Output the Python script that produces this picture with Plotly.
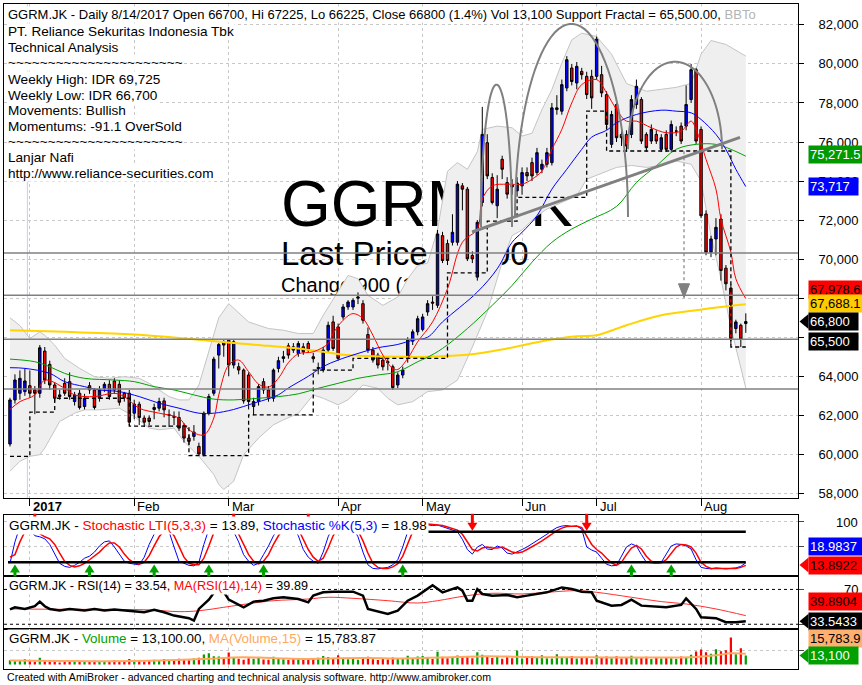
import numpy as np
import pandas as pd
import plotly.graph_objects as go

W, H = 862, 685
FONT = "Arial, Liberation Sans, sans-serif"

# ---------------- data ----------------
holidays = ["2016-12-26", "2017-01-02", "2017-02-15", "2017-03-28", "2017-04-14", "2017-04-19",
            "2017-04-24", "2017-05-01", "2017-05-11", "2017-05-25", "2017-06-01", "2017-06-23",
            "2017-06-26", "2017-06-27", "2017-06-28", "2017-06-29", "2017-06-30"]
trading_days = pd.bdate_range("2016-12-27", "2017-08-14")
trading_days = trading_days[~trading_days.isin(pd.to_datetime(holidays))]

opens = [60530, 62790, 63130, 63215, 63520, 63300, 63130, 65290, 64610, 63555,
         63045, 63640, 63725, 62705, 63130, 62450, 63520, 63300, 62875, 63385,
         63590, 63760, 63590, 63130, 63130, 62110, 62570, 61860, 61860, 62300,
         62365, 62740, 62000, 61950, 61890, 61480, 60835, 60920, 60410, 59985,
         62110, 63130, 65085, 65765, 65850, 64575, 64490, 64320, 64065, 62450,
         62705, 63725, 63300, 62875, 64400, 64915, 65560, 65510, 65170, 65510,
         65680, 65000, 64400, 64320, 65340, 66785, 66530, 67040, 67550, 67550,
         68000, 67720, 66140, 65340, 65085, 64830, 64750, 64490, 63555, 64065,
         64915, 65800, 66275, 66400, 67295, 67800, 67635, 71205, 70800, 70865,
         70865, 73755, 73585, 70185, 69080, 72905, 75965, 74180, 72735, 75115,
         73925, 73800, 73500, 73755, 74435, 74945, 74435, 74605, 74860, 74945,
         77665, 77580, 78770, 79790, 79025, 79620, 79365, 79365, 79365, 79450,
         78430, 75880, 77920, 76390, 76390, 76390, 77920, 78175, 76390, 76050,
         76390, 75625, 76390, 75625, 76560, 76815, 76815, 78175, 79705, 76645,
         72310, 70355, 71035, 72055, 69540, 68520, 66445, 66615, 66700]
highs = [62900, 64100, 64300, 64400, 64300, 63500, 65600, 65500, 64800, 63700,
         63300, 63900, 64200, 63200, 63300, 63100, 63700, 63400, 63500, 63700,
         63800, 63900, 63800, 63200, 63300, 62800, 62700, 62000, 62000, 62600,
         62900, 62900, 62300, 62200, 62200, 61600, 61000, 61500, 60600, 62200,
         63100, 65000, 65700, 65850, 65900, 65850, 64700, 64400, 64200, 62900,
         63600, 63900, 63500, 64400, 65000, 65300, 65700, 65700, 65800, 65700,
         65800, 65200, 64700, 65500, 66800, 67100, 66700, 67700, 67900, 68000,
         68300, 67900, 66500, 65500, 65200, 65000, 64900, 64600, 64200, 64500,
         66000, 66400, 67100, 67200, 67900, 68100, 71500, 71400, 71000, 72300,
         74000, 73900, 73700, 70400, 72000, 77800, 76400, 74400, 74300, 75300,
         74200, 74100, 74200, 74700, 74700, 75200, 75700, 75100, 75700, 78000,
         78400, 79200, 80400, 80000, 80100, 79800, 79600, 79700, 81400, 79900,
         78600, 77600, 78100, 76600, 76600, 78400, 79200, 78300, 76500, 76900,
         76600, 76400, 76600, 77100, 76800, 77000, 78900, 80000, 79800, 76800,
         72500, 71200, 72100, 72300, 69700, 68700, 66900, 66700, 67225]
lows = [60400, 62600, 62800, 63000, 62900, 62060, 62900, 63600, 63300, 62700,
        62800, 63000, 62800, 62500, 62300, 62300, 63100, 62300, 62700, 63200,
        62800, 63100, 62500, 62700, 61500, 61800, 61500, 61400, 61500, 61800,
        62200, 61900, 61400, 61500, 61200, 60600, 60500, 60700, 59950, 59900,
        62000, 63000, 64400, 65000, 64000, 64400, 64100, 62600, 62300, 62000,
        62500, 63100, 62700, 62700, 64200, 64700, 64900, 65200, 65000, 65100,
        65200, 64700, 64100, 64200, 65200, 65300, 64800, 66900, 67400, 67400,
        67700, 66700, 65200, 64700, 64400, 64300, 64300, 63300, 63400, 63900,
        64700, 65600, 66100, 66300, 67100, 67400, 67500, 69800, 69700, 70700,
        70700, 72500, 69900, 69800, 68900, 72700, 74100, 72800, 72100, 74100,
        73100, 73300, 73200, 73300, 74000, 74000, 74300, 74400, 74700, 74800,
        77400, 77400, 78600, 78900, 78700, 79200, 78200, 77700, 79200, 78300,
        76700, 75700, 76000, 75800, 75500, 76200, 77700, 75900, 75500, 75900,
        75900, 75500, 75500, 75500, 76300, 75900, 76600, 78000, 75900, 72100,
        70200, 70100, 70200, 68900, 68400, 65600, 66200, 65500, 66225]
closes = [62790, 63810, 63895, 63760, 63130, 63130, 65460, 63810, 63555, 62875,
          62960, 63130, 62960, 63045, 62400, 62875, 63300, 62400, 63300, 63590,
          62960, 63300, 62670, 62900, 61650, 62570, 61890, 61650, 61690, 62400,
          62705, 62280, 62025, 61900, 61345, 60835, 60665, 61140, 60020, 62110,
          62960, 64880, 65630, 65600, 64575, 65765, 64320, 62740, 62705, 62705,
          63470, 63300, 62875, 64320, 64800, 65000, 65085, 65340, 65680, 65255,
          65340, 64900, 64450, 65340, 66615, 65425, 64915, 67550, 67805, 67890,
          68060, 66870, 65340, 64830, 64575, 64490, 64700, 63420, 64065, 64320,
          65850, 66275, 66950, 67040, 67720, 67750, 71290, 69930, 69930, 71375,
          73840, 73585, 70015, 70015, 71885, 76390, 74265, 72905, 73585, 74605,
          73330, 73700, 73900, 74435, 74265, 74265, 75455, 74860, 75455, 77750,
          77750, 78940, 80215, 79100, 79875, 79450, 78430, 78260, 81270, 78515,
          76900, 77410, 76220, 76220, 75795, 78175, 78855, 76050, 75710, 76645,
          76050, 76220, 75625, 76900, 76560, 76050, 77920, 79705, 76050, 72225,
          70355, 71035, 71630, 69420, 68740, 65935, 66785, 65900, 66800]
volume = [6200, 4800, 5400, 7600, 5200, 4300, 9800, 6100, 4500, 3900,
          3200, 4600, 5300, 3800, 4900, 4100, 3600, 5500, 4200, 3900,
          4700, 6300, 5100, 4400, 8200, 6400, 5200, 4600, 5800, 7200,
          6100, 7900, 6800, 6200, 8400, 7600, 6500, 8800, 9900, 14800,
          16500, 12200, 11800, 10300, 17600, 9800, 8400, 7200, 9100, 8500,
          10200, 7300, 6900, 11400, 8200, 7700, 6800, 8100, 9300, 7400,
          6600, 8700, 9800, 12600, 10900, 8300, 13800, 9200, 7600, 8800,
          7100, 9600, 11300, 7900, 6800, 8600, 7400, 10400, 8100, 9300,
          12800, 9600, 11700, 12400, 9800, 8300, 18800, 11600, 9400, 10600,
          13300, 10200, 12700, 9100, 17900, 14400, 11800, 9700, 12600, 8600,
          10800, 9300, 20500, 8800, 9600, 12100, 10400, 13800, 9300, 8700,
          15200, 11200, 9600, 12400, 8900, 10700, 9800, 7900, 13600, 10800,
          11900, 9200, 12300, 8700, 10100, 12800, 9400, 10900, 11400, 8300,
          9700, 8800, 10500, 9100, 8400, 11800, 10200, 14300, 19200, 22000,
          18000, 16000, 22500, 19500, 21000, 39500, 15000, 24000, 13100]

# moving averages / bands (bar index, value)
ma_red_idx = [0, 2, 5, 7, 11, 13, 17, 21, 23, 26, 30, 34, 36, 39, 41, 42, 44, 46, 48, 50,
              52, 54, 56, 58, 61, 64, 65, 67, 69, 71, 73, 75, 77, 78, 80, 82, 85, 88, 91, 94,
              95, 97, 100, 103, 105, 107, 109, 111, 113, 115, 118, 120, 122, 124, 126, 129,
              132, 135, 137, 138, 140, 142, 143, 145, 146, 148]
ma_red_val = [62300, 62700, 63045, 63800, 63385, 63045, 62960, 63130, 62960, 62365,
              62110, 61860, 61260, 61000, 61860, 63045, 64575, 64830, 64235, 63600,
              63450, 63900, 64700, 65150, 65255, 65680, 66190, 66870, 67210, 66955,
              66100, 65085, 64400, 64350, 64915, 65765, 66785, 68485, 70865, 71545,
              73075, 73755, 73840, 73840, 74095, 74520, 75625, 76645, 78005, 78940,
              79195, 78515, 77665, 77070, 77070, 76730, 76475, 76560, 77070, 76645,
              75115, 73585, 72055, 70355, 68995, 67979]
ma_blue_idx = [0, 3, 8, 11, 15, 18, 22, 26, 30, 34, 38, 41, 45, 49, 52, 54, 56, 60, 63, 66,
               70, 74, 78, 81, 84, 87, 94, 98, 101, 103, 106, 109, 112, 115, 117, 120, 122,
               126, 131, 134, 137, 139, 142, 144, 146, 148]
ma_blue_val = [64440, 64405, 64150, 63725, 63470, 63300, 63215, 62960, 62620, 62365,
               62110, 62110, 62300, 62620, 62850, 63050, 63400, 64000, 64500, 64830,
               65170, 65460, 65630, 65850, 66000, 66785, 68315, 69505, 70865, 71375,
               72225, 73585, 74605, 75625, 76250, 76600, 76985, 77410, 77630, 77580,
               77495, 77155, 76390, 75625, 74605, 73717]
ma_green_idx = [0, 5, 8, 11, 15, 21, 25, 29, 33, 37, 41, 45, 50, 54, 58, 62, 66, 70, 74, 78,
                82, 84, 87, 92, 97, 101, 105, 109, 113, 117, 122, 126, 130, 134, 138, 142, 145, 148]
ma_green_val = [64880, 64745, 64490, 64150, 63895, 63810, 63725, 63470, 63300, 63045,
                62830, 62790, 62875, 62960, 63100, 63385, 63640, 63895, 64065, 64235,
                64745, 64975, 65425, 66445, 67635, 68655, 69845, 70865, 71545, 72050,
                72700, 73925, 74775, 75625, 75880, 75880, 75625, 75272]
ma_yellow_idx = [0, 11, 25, 37, 45, 52, 58, 63, 67, 72, 78, 84, 92, 100, 107, 114, 118, 124,
                 131, 138, 143, 148]
ma_yellow_val = [66360, 66275, 66140, 65900, 65700, 65560, 65425, 65255, 65100, 65035,
                 65000, 65000, 65100, 65425, 65800, 66050, 66105, 66615, 67125, 67380,
                 67550, 67688]
bb_top_idx = [0, 2, 4, 6, 7, 9, 11, 14, 17, 20, 23, 26, 28, 30, 32, 34, 36, 38, 40, 42,
              44, 48, 52, 55, 58, 61, 63, 66, 68, 70, 72, 75, 78, 80, 82, 84, 86, 88, 90, 92,
              94, 95, 98, 101, 103, 105, 107, 109, 111, 113, 115, 118, 121, 124, 128, 131,
              134, 137, 139, 141, 144, 148]
bb_top_val = [67000, 66600, 65935, 66275, 66100, 65595, 64915, 64405, 63980, 63895,
              63980, 63895, 63640, 63300, 62960, 62790, 62790, 63555, 65255, 67000,
              67720, 66785, 66445, 66360, 66190, 66190, 67125, 68315, 69165, 69000,
              68145, 67635, 68060, 68995, 69675, 69800, 71500, 74500, 74945, 74605,
              75500, 76645, 76815, 76730, 76305, 76450, 77665, 78685, 80045, 81235,
              81575, 81405, 80500, 79000, 78600, 78700, 78800, 79000, 80500, 81200,
              81000, 80400]
bb_bot_idx = [0, 2, 4, 6, 7, 10, 13, 15, 18, 22, 25, 28, 30, 33, 35, 38, 41, 42, 43, 45,
              47, 50, 53, 55, 58, 61, 63, 66, 68, 71, 74, 76, 78, 81, 84, 87, 90, 93, 96, 99,
              101, 103, 106, 108, 111, 114, 116, 118, 120, 122, 125, 128, 131, 134, 137, 139,
              141, 143, 145, 147, 148]
bb_bot_val = [59135, 59645, 59900, 59985, 60325, 61685, 62110, 62280, 62280, 62365,
              61940, 61345, 61260, 61345, 60665, 59900, 58965, 58455, 58200, 58625,
              59985, 60835, 61515, 61770, 62100, 63045, 62875, 62535, 62800, 63555,
              63385, 62875, 62535, 62700, 63215, 63300, 63800, 65500, 67295, 69845,
              71205, 71500, 72225, 72565, 72905, 73245, 74095, 74300, 74500, 74700,
              74800, 74700, 74800, 75030, 74860, 74000, 71205, 68995, 66500, 64400, 63400]
fractal_idx = [0, 4, 9, 24, 36, 48, 61, 69, 88, 96, 102, 116, 120, 145, 148]
fractal_val = [59900, 62160, 62875, 61450, 59935, 62025, 64320, 64915, 69300, 71950,
               73160, 77580, 75540, 65500, 65500]
support_levels = [70320, 68145, 65900, 63350]

stoch_k = [18, 60, 90, 92, 85, 72, 70, 66, 55, 35,
           18, 12, 10, 14, 20, 28, 32, 40, 52, 60,
           62, 50, 35, 22, 18, 16, 15, 30, 55, 75,
           85, 90, 80, 50, 22, 18, 14, 13, 20, 55,
           85, 98, 100, 98, 90, 80, 60, 35, 22, 14,
           18, 35, 52, 72, 86, 92, 95, 88, 72, 45,
           30, 22, 18, 40, 70, 90, 95, 96, 92, 88,
           70, 40, 15, 8, 7, 8, 10, 15, 25, 50,
           80, 95, 98, 95, 94, 92, 93, 90, 86, 84,
           80, 65, 45, 36, 50, 55, 46, 45, 52, 48,
           38, 36, 40, 45, 50, 56, 62, 68, 75, 82,
           88, 91, 92, 90, 91, 85, 50, 44, 40, 28,
           16, 13, 14, 32, 50, 56, 52, 35, 20, 19,
           18, 20, 36, 52, 56, 55, 52, 46, 25, 10,
           8, 7, 9, 8, 7, 8, 9, 12, 18.98]
stoch_d = [30, 35, 60, 80, 90, 85, 76, 70, 66, 55,
           38, 22, 14, 11, 13, 18, 25, 32, 40, 50,
           58, 58, 50, 36, 25, 19, 16, 20, 33, 52,
           70, 82, 85, 72, 50, 30, 18, 15, 15, 28,
           52, 78, 94, 98, 95, 88, 75, 55, 35, 22,
           17, 22, 35, 55, 72, 85, 92, 92, 85, 65,
           45, 30, 22, 28, 48, 72, 88, 94, 94, 90,
           82, 62, 38, 18, 10, 8, 8, 11, 17, 32,
           55, 80, 93, 96, 95, 94, 93, 92, 89, 86,
           83, 75, 60, 45, 42, 48, 50, 48, 48, 50,
           45, 40, 38, 40, 45, 50, 56, 62, 68, 75,
           82, 87, 90, 91, 91, 88, 70, 55, 45, 38,
           28, 19, 14, 20, 35, 48, 53, 46, 32, 22,
           19, 19, 25, 38, 50, 55, 54, 50, 38, 20,
           12, 8, 8, 8, 8, 8, 8, 10, 13.89]
buy_signal_idx = [1, 16, 29, 40, 51, 79, 125, 133]
sell_signal_idx = [5, 45, 60, 93, 116]

rsi_idx = [0, 1, 3, 5, 6, 7, 8, 10, 12, 15, 17, 19, 21, 24, 27, 29, 31, 33, 36, 37,
           38, 40, 41, 42, 43, 44, 47, 49, 51, 53, 55, 58, 60, 61, 63, 65, 69, 71, 72, 74,
           76, 78, 80, 82, 84, 85, 87, 90, 91, 92, 93, 94, 95, 97, 100, 102, 104, 106, 108, 111,
           113, 115, 117, 118, 121, 123, 125, 127, 129, 132, 135, 136, 138, 139, 142, 144, 146, 148]
rsi_val = [47, 49.5, 47.6, 50.7, 56, 50.7, 47.6, 45.7, 47.6, 45.7, 47.6, 45.7, 46.9, 45.7, 43.8,
           46.5, 43.8, 40, 37, 34.3, 47.6, 58.3, 66, 76, 66.7, 58.3, 49.5, 56, 57.1, 59.8,
           61, 59, 55.2, 62.9, 66.7, 67.4, 67.4, 62.9, 47.6, 44.6, 41.9, 45.7, 57.1, 62.9, 70.4,
           74.9, 66.7, 72.3, 68.6, 57.1, 57.1, 70.4, 64.8, 62.9, 63.7, 61, 62.9, 64.8, 66.7, 72.3,
           70.4, 67.4, 66.7, 57.1, 51.4, 52.2, 58.3, 51.4, 50.7, 49.5, 52.2, 59.8, 47.6, 38.1,
           37, 32.4, 32.4, 33.54]
rsi_ma_idx = [0, 10, 20, 28, 34, 38, 43, 49, 53, 60, 64, 69, 76, 82, 86, 92, 97, 103, 108,
              114, 118, 125, 131, 136, 142, 148]
rsi_ma_val = [47.6, 47.2, 47, 46.5, 44.5, 45.5, 49.5, 54.4, 57.1, 59, 61, 59.8, 57.1, 54.4,
              57.1, 62.9, 65.6, 64.8, 66.7, 68.6, 66.7, 61, 56, 53.3, 47.6, 39.89]
vol_ma_idx = [0, 10, 20, 30, 40, 45, 50, 55, 60, 66, 72, 78, 84, 90, 96, 102, 108, 114, 120,
              126, 132, 138, 142, 145, 148]
vol_ma_val = [6000, 5400, 4900, 6000, 8500, 10400, 10300, 9000, 8300, 9200, 9500, 8900, 9800,
              11200, 12300, 11500, 10600, 10800, 10500, 10400, 10300, 11000, 13500, 16500, 15784]

month_labels = ["<b>2017</b>", "Feb", "Mar", "Apr", "May", "Jun", "Jul", "Aug"]
header_first = ("GGRM.JK - Daily 8/14/2017 Open 66700, Hi 67225, Lo 66225, Close 66800 (1.4%) Vol 13,100 "
                "Support Fractal = 65,500.00, <span style='color:#b4b4b4'>BBTo</span>")
header_lines = [
    "PT. Reliance Sekuritas Indonesia Tbk",
    "Technical Analysis",
    "~~~~~~~~~~~~~~~~~~~~~~",
    "Weekly High: IDR 69,725",
    "Weekly Low: IDR 66,700",
    "Movements: Bullish",
    "Momentums: -91.1 OverSold",
    "~~~~~~~~~~~~~~~~~~~~~~",
    "Lanjar Nafi",
    "http://www.reliance-securities.com",
]
watermark = ["GGRM.JK", "Last Price 66800", "Change 900 (1.4%)"]

# ---------------- geometry helpers (layout only) ----------------
idx = list(range(len(closes)))
dser = pd.Series(trading_days)
month_start_idx = [int(i) for i in dser.groupby([dser.dt.year, dser.dt.month]).head(1).index][1:]

PX_L, PX_R = 4, 798
X_RANGE = [-1.2, 158.5]
PY_T, PY_B = 4, 500
P_RANGE = [57775, 83071]
XPP = (X_RANGE[1] - X_RANGE[0]) / (PX_R - PX_L)   # index units per pixel


def px2x(px):
    return X_RANGE[0] + (px - PX_L) * XPP


def py2p(py):
    return P_RANGE[1] - (py - PY_T) * (P_RANGE[1] - P_RANGE[0]) / (PY_B - PY_T)


def fx(px):
    return px / W


def fy(py):
    return 1 - py / H


fig = go.Figure()

# base layer: watermark text + bollinger band (below candles)
fig.add_trace(go.Scatter(x=[px2x(281)] * 3, y=[py2p(211), py2p(258), py2p(288)], mode="text",
                         text=watermark, textposition="middle right",
                         textfont=dict(size=[64, 33, 20], color="black", family=FONT),
                         xaxis="x", yaxis="y", hoverinfo="skip"))
fig.add_trace(go.Scatter(x=bb_bot_idx, y=bb_bot_val, mode="lines", line=dict(color="#c4c4c4", width=1),
                         xaxis="x", yaxis="y", hoverinfo="skip"))
fig.add_trace(go.Scatter(x=bb_top_idx, y=bb_top_val, mode="lines", line=dict(color="#c4c4c4", width=1),
                         fill="tonexty", fillcolor="#efefef", xaxis="x", yaxis="y", hoverinfo="skip"))

# overlay layer: candles and lines
fig.add_trace(go.Candlestick(x=idx, open=opens, high=highs, low=lows, close=closes,
                             increasing=dict(fillcolor="#0000ff", line=dict(color="black", width=1)),
                             decreasing=dict(fillcolor="#ff0000", line=dict(color="black", width=1)),
                             whiskerwidth=0, xaxis="x", yaxis="y2", hoverinfo="skip"))
for xs, ys, col, wd in [(ma_yellow_idx, ma_yellow_val, "#ffd400", 2),
                        (ma_green_idx, ma_green_val, "#00a000", 1),
                        (ma_blue_idx, ma_blue_val, "#0000ff", 1),
                        (ma_red_idx, ma_red_val, "#ff0000", 1)]:
    fig.add_trace(go.Scatter(x=xs, y=ys, mode="lines", line=dict(color=col, width=wd, shape="spline"),
                             xaxis="x", yaxis="y2", hoverinfo="skip"))
fig.add_trace(go.Scatter(x=fractal_idx, y=fractal_val, mode="lines",
                         line=dict(color="black", width=1.3, dash="4px,3px", shape="hv"),
                         xaxis="x", yaxis="y2", hoverinfo="skip"))

# stochastic
fig.add_trace(go.Scatter(x=idx, y=stoch_k, mode="lines", line=dict(color="#0000ff", width=1),
                         xaxis="x3", yaxis="y3", hoverinfo="skip"))
fig.add_trace(go.Scatter(x=idx, y=stoch_d, mode="lines", line=dict(color="#ff0000", width=1.5),
                         xaxis="x3", yaxis="y3", hoverinfo="skip"))
# rsi
fig.add_trace(go.Scatter(x=rsi_ma_idx, y=rsi_ma_val, mode="lines",
                         line=dict(color="#ff3030", width=1, shape="spline"),
                         xaxis="x4", yaxis="y4", hoverinfo="skip"))
fig.add_trace(go.Scatter(x=rsi_idx, y=rsi_val, mode="lines", line=dict(color="black", width=2.5),
                         xaxis="x4", yaxis="y4", hoverinfo="skip"))
# volume
vol_colors = ["#00a000" if c >= o else "#ff0000" for o, c in zip(opens, closes)]
fig.add_trace(go.Bar(x=idx, y=volume, marker=dict(color=vol_colors, line=dict(width=0)), width=0.45,
                     xaxis="x5", yaxis="y5", hoverinfo="skip"))
fig.add_trace(go.Scatter(x=vol_ma_idx, y=vol_ma_val, mode="lines",
                         line=dict(color="#ffa860", width=2, shape="spline"),
                         xaxis="x5", yaxis="y5", hoverinfo="skip"))

# ---------------- shapes ----------------
shapes = []
GRAY = "#808080"
shapes.append(dict(type="line", xref="x", yref="y domain", x0=month_start_idx[0] - 0.5,
                   x1=month_start_idx[0] - 0.5, y0=0, y1=1, line=dict(color="#c8c8ff", width=1),
                   layer="below"))
for lv in support_levels:
    shapes.append(dict(type="line", xref="x domain", yref="y", x0=0, x1=1, y0=lv, y1=lv,
                       line=dict(color=GRAY, width=1.5)))


def arc_path(left, right, base, top, n=48):
    cx, rx = (left + right) / 2, (right - left) / 2
    pts = []
    for t in np.linspace(0, np.pi, n):
        pts.append((px2x(cx - rx * np.cos(t)), py2p(base - (base - top) * np.sin(t))))
    return "M " + " L ".join(f"{a:.3f},{b:.1f}" for a, b in pts)


for arc in [(481, 512, 228, 85), (515, 628, 218, 24), (628, 722, 150, 62)]:
    shapes.append(dict(type="path", xref="x", yref="y", path=arc_path(*arc),
                       line=dict(color=GRAY, width=2)))
shapes.append(dict(type="line", xref="x", yref="y", x0=px2x(472), y0=py2p(233), x1=px2x(740),
                   y1=py2p(138), line=dict(color=GRAY, width=3)))
shapes.append(dict(type="line", xref="x", yref="y", x0=px2x(684), y0=py2p(152), x1=px2x(684),
                   y1=py2p(286), line=dict(color=GRAY, width=1.2, dash="3px,3px")))
shapes.append(dict(type="path", xref="x", yref="y",
                   path=f"M {px2x(678.5)},{py2p(285)} L {px2x(689.5)},{py2p(285)} L {px2x(684)},{py2p(299)} Z",
                   fillcolor=GRAY, line=dict(color=GRAY, width=1)))
for lv in [80, 20]:
    shapes.append(dict(type="line", xref="x3", yref="y3", x0=-0.4, x1=idx[-1], y0=lv, y1=lv,
                       line=dict(color="black", width=2.5)))
for lv in [70, 30]:
    shapes.append(dict(type="line", xref="x4 domain", yref="y4", x0=0, x1=1, y0=lv, y1=lv,
                       line=dict(color="black", width=1, dash="dot")))


def arrow_path(i, tip, head_base, tail):
    hw, sw = 5 * XPP, 1.5 * XPP
    return (f"M {i - hw},{fy(head_base)} L {i},{fy(tip)} L {i + hw},{fy(head_base)} "
            f"L {i + sw},{fy(head_base)} L {i + sw},{fy(tail)} L {i - sw},{fy(tail)} "
            f"L {i - sw},{fy(head_base)} Z")


for i in buy_signal_idx:
    shapes.append(dict(type="path", xref="x3", yref="paper", path=arrow_path(i, 567, 575, 579),
                       fillcolor="#00a000", line=dict(width=0)))
for i in sell_signal_idx:
    shapes.append(dict(type="path", xref="x3", yref="paper", path=arrow_path(i, 533, 525, 516),
                       fillcolor="#ff0000", line=dict(width=0)))
for ypix, col in [(323, "black"), (567.5, "#ff0000"), (624, "black"), (658.5, "#00a000")]:
    shapes.append(dict(type="path", xref="paper", yref="paper",
                       path=f"M {fx(799.5)},{fy(ypix)} L {fx(808.5)},{fy(ypix - 7.5)} L {fx(808.5)},{fy(ypix + 7.5)} Z",
                       fillcolor=col, line=dict(width=0)))

# ---------------- annotations ----------------
ann = []
ann.append(dict(x=fx(7), y=fy(15), xref="paper", yref="paper", xanchor="left", yanchor="middle",
                text=header_first, showarrow=False, bgcolor="white", borderpad=0,
                font=dict(size=13, color="black", family=FONT)))
for k, line in enumerate(header_lines):
    yc = [32, 48, 63, 80, 96, 111, 127, 142, 158, 174][k]
    ann.append(dict(x=fx(7), y=fy(yc), xref="paper", yref="paper", xanchor="left", yanchor="middle",
                    text=line, showarrow=False, bgcolor="white", borderpad=0,
                    font=dict(size=13.6, color="black", family=FONT)))

ann.append(dict(x=fx(7), y=fy(527.5), xref="paper", yref="paper", xanchor="left", yanchor="middle",
                showarrow=False, bgcolor="white", borderpad=1, font=dict(size=13.5, family=FONT),
                text="GGRM.JK - <span style='color:#ff0000'>Stochastic LTI(5,3,3)</span> = 13.89, "
                     "<span style='color:#0000ff'>Stochastic %K(5,3)</span> = 18.98"))
ann.append(dict(x=fx(7), y=fy(589), xref="paper", yref="paper", xanchor="left", yanchor="middle",
                showarrow=False, bgcolor="white", borderpad=1, font=dict(size=12.6, family=FONT),
                text="GGRM.JK - RSI(14) = 33.54, <span style='color:#ff0000'>MA(RSI(14),14)</span> = 39.89"))
ann.append(dict(x=fx(7), y=fy(641), xref="paper", yref="paper", xanchor="left", yanchor="middle",
                showarrow=False, bgcolor="white", borderpad=1, font=dict(size=13.4, family=FONT),
                text="GGRM.JK - <span style='color:#00a000'>Volume</span> = 13,100.00, "
                     "<span style='color:#ffa860'>MA(Volume,15)</span> = 15,783.87"))

for pos, lab in zip(month_start_idx, month_labels):
    ann.append(dict(x=pos, y=fy(509), xref="x", yref="paper", xanchor="left", yanchor="middle",
                    xshift=1, text=lab, showarrow=False, font=dict(size=13, family=FONT)))

ann.append(dict(x=fx(860), y=fy(525), xref="paper", yref="paper", xanchor="right", yanchor="middle",
                text="100", showarrow=False, font=dict(size=13, family=FONT)))
ann.append(dict(x=fx(860), y=fy(592), xref="paper", yref="paper", xanchor="right", yanchor="middle",
                text="70", showarrow=False, font=dict(size=13, family=FONT)))

value_boxes = [(155, "75,271.5", "#009900", "white"), (187, "73,717", "#0000ff", "white"),
               (291, "67,978.6", "#ff0000", "black"), (305, "67,688.1", "#ffcc00", "black"),
               (323, "66,800", "black", "white"), (343, "65,500", "black", "white"),
               (549, "18.9837", "#0000ff", "white"), (567.5, "13.8922", "#ff0000", "black"),
               (604, "39.8904", "#ff0000", "black"), (624, "33.5433", "black", "white"),
               (641, "15,783.9", "#ffb070", "black"), (658.5, "13,100", "#00a000", "white")]
for yc, txt, bg, fc in value_boxes:
    ann.append(dict(x=fx(808), y=fy(yc), xref="paper", yref="paper", xanchor="left", yanchor="middle",
                    text=txt + "  ", showarrow=False, bgcolor=bg, borderpad=1,
                    font=dict(size=13, color=fc, family=FONT)))

ann.append(dict(x=fx(5), y=fy(680), xref="paper", yref="paper", xanchor="left", yanchor="middle",
                text="Created with AmiBroker - advanced charting and technical analysis software. http://www.amibroker.com",
                showarrow=False, font=dict(size=10.6, family=FONT, color="black")))

axc = dict(showline=True, linecolor="black", linewidth=1, mirror=True, zeroline=False)
grid = dict(showgrid=True, gridcolor="#c8c8c8", griddash="dot", gridwidth=1)
xdom = [fx(PX_L), fx(PX_R)]
fig.update_layout(
    width=W, height=H, margin=dict(l=0, r=0, t=0, b=0), paper_bgcolor="white", plot_bgcolor="white",
    showlegend=False, font=dict(family=FONT, size=13, color="black"), hovermode=False,
    xaxis=dict(domain=xdom, range=X_RANGE, anchor="y", tickvals=month_start_idx, ticks="outside",
               ticklen=7, tickcolor="black", showticklabels=False, rangeslider=dict(visible=False),
               **grid, **axc),
    yaxis=dict(domain=[fy(PY_B), fy(PY_T)], range=P_RANGE, anchor="x", side="right",
               tickvals=list(range(58000, 82001, 2000)), tickformat=",d", ticks="outside", ticklen=5,
               tickcolor="black", ticklabelstandoff=12, tickfont=dict(size=13), **grid, **axc),
    yaxis2=dict(overlaying="y", range=P_RANGE, anchor="x", visible=False),
    xaxis3=dict(domain=xdom, range=X_RANGE, anchor="y3", tickvals=month_start_idx, ticks="",
                showticklabels=False, **grid, **axc),
    yaxis3=dict(domain=[fy(579), fy(517)], range=[-7.8, 113.2], anchor="x3", side="right",
                tickvals=[50, 100], ticks="outside", ticklen=5, showticklabels=False, **grid, **axc),
    xaxis4=dict(domain=xdom, range=X_RANGE, anchor="y4", tickvals=month_start_idx, ticks="",
                showticklabels=False, **grid, **axc),
    yaxis4=dict(domain=[fy(632), fy(579)], range=[24.3, 84.9], anchor="x4", side="right",
                tickvals=[30, 70], ticks="outside", ticklen=5, showticklabels=False, showgrid=False, **axc),
    xaxis5=dict(domain=xdom, range=X_RANGE, anchor="y5", tickvals=month_start_idx, ticks="",
                showticklabels=False, **grid, **axc),
    yaxis5=dict(domain=[fy(672), fy(632)], range=[-6548, 51650], anchor="x5", side="right",
                tickvals=[20000], ticks="outside", ticklen=5, showticklabels=False, **grid, **axc),
    shapes=shapes, annotations=ann,
)

fig.write_html("out.html")
